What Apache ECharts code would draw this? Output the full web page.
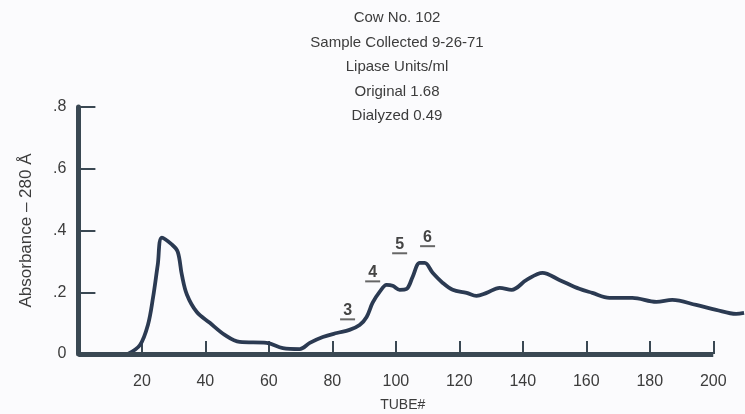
<!DOCTYPE html>
<html>
<head>
<meta charset="utf-8">
<script src="https://cdn.jsdelivr.net/npm/echarts@6/dist/echarts.min.js"></script>
<style>
html,body{margin:0;padding:0;background:#fbfbfd;}
#chart{width:745px;height:414px;}
</style>
</head>
<body>
<div id="chart"></div>
<script>
// Tube numbers and absorbance readings
const tubes = [15.6, 19.4, 21.9, 23.5, 25.0, 26.3, 29.5, 31.3, 32.6, 34.2, 37.3, 41.4, 46.1, 50.8, 59.3, 64.4, 69.7, 72.9, 77.0, 81.4, 85.4, 88.6, 90.8, 92.7, 94.9, 97.1, 99.0, 101.2, 103.4, 105.3, 107.5, 109.1, 111.6, 114.7, 117.9, 122.3, 125.4, 128.6, 132.7, 136.5, 141.2, 146.2, 151.5, 157.8, 161.9, 167.3, 174.5, 182.1, 187.1, 194.6, 200.9, 207.2, 209.7];
const absorbance = [0.0, 0.029, 0.094, 0.182, 0.289, 0.377, 0.354, 0.331, 0.256, 0.192, 0.136, 0.101, 0.062, 0.039, 0.036, 0.019, 0.016, 0.036, 0.055, 0.068, 0.078, 0.094, 0.120, 0.166, 0.201, 0.224, 0.221, 0.208, 0.211, 0.250, 0.295, 0.295, 0.263, 0.231, 0.208, 0.198, 0.188, 0.198, 0.214, 0.208, 0.240, 0.263, 0.240, 0.211, 0.198, 0.182, 0.182, 0.169, 0.175, 0.159, 0.143, 0.130, 0.133];

// Fraction annotations
const peakLabels = ['3', '4', '5', '6'];
const peakTubes = [84.8, 92.7, 101.2, 110.0];
const peakValues = [0.143, 0.266, 0.357, 0.380];

// Axis ticks
const xTicks = [20, 40, 60, 80, 100, 120, 140, 160, 180, 200];
const yTicks = [0, 0.2, 0.4, 0.6, 0.8];
const yTickLabels = ['0', '.2', '.4', '.6', '.8'];

const titleLines = ['Cow No. 102', 'Sample Collected 9-26-71', 'Lipase Units/ml', 'Original 1.68', 'Dialyzed 0.49'];

const axisColor = '#3a4853';
const curveColor = '#2b3a52';
const textColor = '#3c3c3c';
const font = '"Liberation Sans", Arial, sans-serif';

const data = tubes.map((t, i) => [t, absorbance[i]]);

const chart = echarts.init(document.getElementById('chart'));
chart.setOption({
  animation: false,
  backgroundColor: '#fbfbfd',
  title: {
    text: titleLines.join('\n'),
    left: 397,
    top: 6,
    padding: 0,
    textAlign: 'center',
    textStyle: { fontFamily: font, fontSize: 15, fontWeight: 'normal', color: textColor, lineHeight: 24.5 }
  },
  grid: { left: 78.4, right: 0, top: 107, bottom: 60, containLabel: false, outerBoundsMode: 'none' },
  xAxis: {
    type: 'value',
    min: 0,
    max: 210,
    interval: 20,
    name: 'TUBE#',
    nameLocation: 'middle',
    nameGap: 44,
    nameTextStyle: { fontFamily: font, fontSize: 14, color: textColor, padding: [0, 18, 0, 0] },
    axisLine: { show: false },
    splitLine: { show: false },
    axisTick: { show: true, inside: true, length: 13, customValues: xTicks, lineStyle: { color: axisColor, width: 2 } },
    axisLabel: { customValues: xTicks, margin: 20, fontFamily: font, fontSize: 16, color: textColor }
  },
  yAxis: {
    type: 'value',
    min: 0,
    max: 0.8,
    interval: 0.2,
    name: 'Absorbance – 280 Å',
    nameLocation: 'middle',
    nameGap: 44,
    nameTextStyle: { fontFamily: font, fontSize: 17, color: textColor },
    axisLine: { show: true, lineStyle: { color: axisColor, width: 5 } },
    splitLine: { show: false },
    axisTick: { show: true, inside: true, length: 17, customValues: yTicks.slice(1), lineStyle: { color: axisColor, width: 2 } },
    axisLabel: {
      customValues: yTicks,
      margin: 12,
      fontFamily: font, fontSize: 16, color: textColor,
      formatter: v => { const i = yTicks.findIndex(t => Math.abs(t - v) < 1e-6); return i >= 0 ? yTickLabels[i] : ''; }
    }
  },
  series: [{
    type: 'line',
    data: data,
    smooth: 0.35,
    symbol: 'none',
    clip: false,
    lineStyle: { color: curveColor, width: 3.8 },
    markLine: {
      silent: true,
      symbol: 'none',
      label: { show: false },
      lineStyle: { color: axisColor, width: 5, type: 'solid' },
      data: [[{ coord: [0, 0] }, { coord: [200, 0] }]]
    },
    markPoint: {
      silent: true,
      symbol: 'rect',
      symbolSize: 0,
      data: peakLabels.map((l, i) => ({
        coord: [peakTubes[i], peakValues[i]],
        value: l,
        label: {
          show: true,
          position: 'inside',
          offset: [0, 2],
          formatter: '{n|' + l + '}\n{u|}',
          rich: {
            n: { fontFamily: font, fontSize: 16, fontWeight: 'bold', color: '#444', align: 'center', lineHeight: 15 },
            u: { width: 15, height: 2, lineHeight: 3, backgroundColor: '#666', align: 'center' }
          }
        }
      }))
    }
  }]
});
</script>
</body>
</html>
